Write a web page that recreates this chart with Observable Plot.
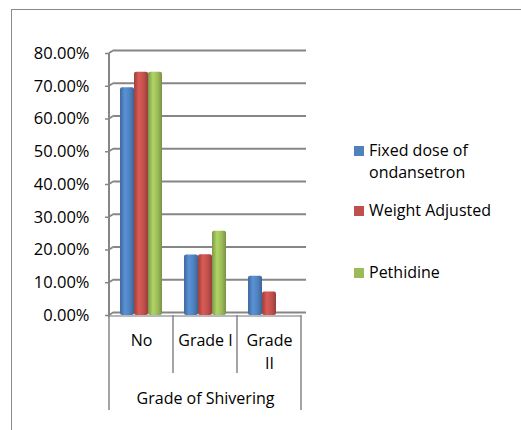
<!DOCTYPE html>
<html>
<head>
<meta charset="utf-8">
<script src="https://cdn.jsdelivr.net/npm/d3@7"></script>
<script src="https://cdn.jsdelivr.net/npm/@observablehq/plot@0.6"></script>
<style>
  html, body { margin: 0; padding: 0; background: #fff; }
  #wrap { position: relative; width: 521px; height: 430px; overflow: hidden; font-family: "Open Sans", sans-serif; }
  #frame { position: absolute; left: 11px; top: 9px; width: 600px; height: 500px; border-left: 1px solid #8a8a8a; border-top: 1px solid #8a8a8a; box-sizing: border-box; }
  #chart { position: absolute; left: 0; top: 0; }
  .lg { position: absolute; left: 354px; font-size: 16px; line-height: 22px; color: #000; }
  .lg .sw { position: absolute; left: 0; width: 10px; height: 10px; top: 7px; }
  .lg .tx { position: absolute; left: 15px; top: 0; white-space: nowrap; }
</style>
</head>
<body>
<div id="wrap">
  <div id="frame"></div>
  <div id="chart"></div>
  <div id="legend"></div>
</div>
<script>
// ---- data ----
const categories = ["No", "Grade I", "Grade II"];
const categoryLabels = ["No", "Grade I", "Grade\nII"];
const seriesNames = ["Fixed dose of ondansetron", "Weight Adjusted", "Pethidine"];
const legendLines = [["Fixed dose of", "ondansetron"], ["Weight Adjusted"], ["Pethidine"]];
const fixedDose = [0.6957, 0.1848, 0.1196];
const weightAdjusted = [0.7429, 0.1857, 0.0714];
const pethidine = [0.7429, 0.2571, 0.0];
const yTicks = [0, 0.1, 0.2, 0.3, 0.4, 0.5, 0.6, 0.7, 0.8];
const axisTitle = "Grade of Shivering";
const seriesColors = ["#4F81BD", "#C0504D", "#9BBB59"];

const seriesValues = [fixedDose, weightAdjusted, pethidine];
const rows = [];
categories.forEach((c, i) => {
  seriesNames.forEach((s, j) => rows.push({category: c, series: s, value: seriesValues[j][i]}));
});
const gradIds = seriesNames.map((s, j) => "cyl" + j);

const chart = Plot.plot({
  width: 521,
  height: 430,
  marginLeft: 108,
  marginRight: 219,
  marginTop: 53,
  marginBottom: 115,
  style: {fontFamily: "'Open Sans', sans-serif", fontSize: "16px", color: "#000", background: "transparent", overflow: "visible"},
  y: {domain: [0, 0.8], label: null},
  fx: {domain: categories, padding: 0, label: null},
  x: {domain: seriesNames, paddingInner: 0, paddingOuter: 0.75, axis: null},
  color: {domain: seriesNames, range: gradIds.map(id => `url(#${id})`)},
  marks: [
    Plot.gridY(yTicks, {stroke: "#868686", strokeOpacity: 1, strokeWidth: 2, dx: 5, dy: -3}),
    Plot.axisY(yTicks, {tickFormat: d3.format(".2%"), tickSize: 4, tickPadding: 16, stroke: "#868686", strokeWidth: 1.5, fill: "#000", fontSize: 16.5, label: null}),
    Plot.axisFx({anchor: "bottom", tickSize: 0, tickPadding: 14, lineHeight: 1.44,
      tickFormat: d => categoryLabels[categories.indexOf(d)],
      label: axisTitle, labelAnchor: "center", labelOffset: 88, fill: "#000"}),
    Plot.barY(rows, {fx: "category", x: "series", y: "value", fill: "series", ry: 2})
  ]
});

// cylinder-like gradients
const svg = d3.select(chart);
const defs = svg.insert("defs", ":first-child");
seriesColors.forEach((c, j) => {
  const base = d3.color(c);
  const g = defs.append("linearGradient").attr("id", gradIds[j]).attr("x1", 0).attr("x2", 1).attr("y1", 0).attr("y2", 0);
  g.append("stop").attr("offset", "0%").attr("stop-color", base.darker(0.6));
  g.append("stop").attr("offset", "35%").attr("stop-color", base.brighter(0.35));
  g.append("stop").attr("offset", "70%").attr("stop-color", base);
  g.append("stop").attr("offset", "100%").attr("stop-color", base.darker(0.7));
});

// axis line, 3D grid connectors and category table dividers from the scales
const fx = chart.scale("fx");
const y = chart.scale("y");
const x0 = fx.apply(categories[0]);
const xEnd = fx.apply(categories[categories.length - 1]) + fx.bandwidth;
const y0 = y.apply(0);
const deco = svg.append("g").attr("stroke", "#868686").attr("fill", "none");
deco.append("line").attr("x1", x0).attr("x2", x0).attr("y1", y.apply(0.8)).attr("y2", y0 + 2).attr("stroke-width", 2);
yTicks.forEach(t => {
  deco.append("line").attr("x1", x0).attr("x2", x0 + 5).attr("y1", y.apply(t)).attr("y2", y.apply(t) - 3).attr("stroke-width", 2);
});
deco.append("line").attr("x1", x0).attr("x2", xEnd).attr("y1", y0 + 1).attr("y2", y0 + 1).attr("stroke-width", 1.5).attr("stroke", "#a0a0a0");
categories.forEach((c, i) => {
  const xp = fx.apply(c);
  deco.append("line").attr("x1", xp).attr("x2", xp).attr("y1", y0).attr("y2", i === 0 ? y0 + 95 : y0 + 58).attr("stroke-width", 1.5);
});
deco.append("line").attr("x1", xEnd).attr("x2", xEnd).attr("y1", y0).attr("y2", y0 + 95).attr("stroke-width", 1.5);
// bring bars above decorations
svg.selectAll("g[aria-label='bar']").raise();

document.getElementById("chart").appendChild(chart);

// legend
const legendTops = [139, 199, 261];
const legend = document.getElementById("legend");
seriesNames.forEach((s, j) => {
  const item = document.createElement("div");
  item.className = "lg";
  item.style.top = legendTops[j] + "px";
  item.innerHTML = `<div class="sw" style="background:${seriesColors[j]}"></div><div class="tx">${legendLines[j].join("<br>")}</div>`;
  legend.appendChild(item);
});
</script>
</body>
</html>
